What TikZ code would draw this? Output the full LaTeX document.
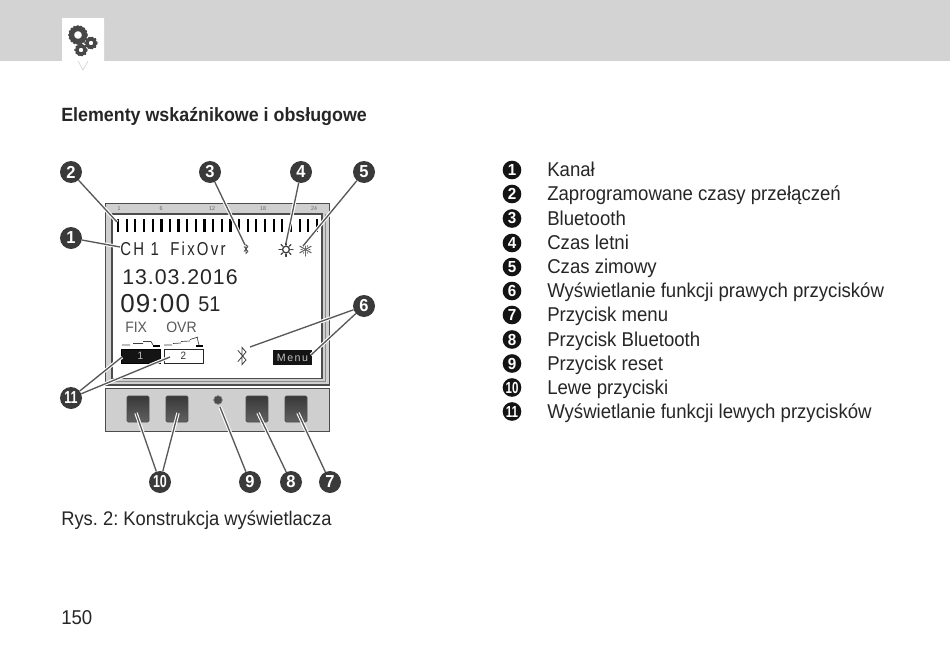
\documentclass[tikz,border=0pt]{standalone}
\usepackage{fontspec}
\setmainfont[FakeStretch=0.93]{Liberation Sans}
\newfontfamily\lcdn[FakeStretch=0.8,LetterSpace=12]{Liberation Sans}
\newfontfamily\lcd[LetterSpace=4.5]{Liberation Sans}
\newfontfamily\lcdm[LetterSpace=14]{Liberation Sans}
\newfontfamily\badgef[FakeStretch=0.95]{Liberation Sans Bold}
\newfontfamily\badgen[FakeStretch=0.72]{Liberation Sans Bold}
\usetikzlibrary{calc}
\pgfdeclarelayer{front}
\pgfsetlayers{main,front}
\definecolor{hdr}{HTML}{D3D3D3}
\definecolor{ink}{HTML}{3A3A3A}
\definecolor{frm}{HTML}{CFCFCF}
\tikzset{
 x=0.75pt,y=-0.75pt,
 badge/.style={circle,fill=ink,text=white,minimum size=16.5pt,inner sep=0pt,font=\badgef\fontsize{13}{13}\selectfont},
 lbadge/.style={circle,fill=black!92,text=white,minimum size=14pt,inner sep=0pt,font=\badgef\fontsize{12}{12}\selectfont},
 conn/.style={draw=ink!85!white,line width=1pt,preaction={draw=white,line width=2.6pt}},
 item/.style={anchor=base west,inner sep=0pt,text=black!85,font=\fontsize{15}{16}\selectfont},
 hourlab/.style={inner sep=0pt,text=black!60,font=\fontsize{4.2}{5}\selectfont},
 lcdt/.style={anchor=base west,inner sep=0pt,text=black!85},
 keybtn/.style={draw=black!70,top color=black!78,bottom color=black!62,rounded corners=1pt,line width=0.5pt},
 icon/.style={draw=black!75,line width=0.55pt,line cap=round},
}
\begin{document}
\begin{tikzpicture}
\frenchspacing
\useasboundingbox (0,0) rectangle (950,646);
\fill[white] (0,0) rectangle (950,646);
% header
\fill[hdr] (0,0) rectangle (950,61);
\fill[white] (62,18) -- (104,18) -- (104,61) -- (88,61) -- (83,70) -- (78,61) -- (62,61) -- cycle;
\draw[hdr,line width=0.5pt] (78,61) -- (83,70) -- (88,61);
% gears
\foreach \cx/\cy/\rr in {78/35/6.5,91/43/4.2,81/50/4.2}{
  \draw[black!72,line width=\rr*0.62pt] (\cx,\cy) circle[radius=\rr];
  \draw[black!72,line width=1.5pt,dash pattern=on 1.2pt off 1.3pt] (\cx,\cy) circle[radius=\rr*1.35];
}
% title etc
\node[item,font=\bfseries\fontsize{14.4}{16}\selectfont] (title) at (61,121) {Elementy wskaźnikowe i obsługowe};
\node[item,font=\fontsize{14.8}{16}\selectfont] (caption) at (61,525) {Rys. 2: Konstrukcja wyświetlacza};
\node[item] (page) at (61,624) {150};
% display frame
\draw[black!70,fill=frm,line width=0.9pt] (105.5,203.5) rectangle (329.5,385);
\draw[black!70,fill=white,line width=0.9pt] (112,214) rectangle (322,378.5);
\draw[black!45,line width=0.4pt] (112,381) -- (325,381) -- (325,214);
% button panel
\draw[black!70,fill=frm,line width=0.7pt] (105.5,388) rectangle (329.5,431);
\foreach \xa in {127,166,246,285}
  \draw[keybtn] (\xa,396) rectangle ++(22,26);
\node[circle,fill=black!70,draw=black!50,minimum size=6.5pt,inner sep=0pt] (reset) at (218,400) {};
% ticks
\foreach \i in {0,...,23}
  \draw[black,line width=1.6pt] (118+\i*8.65,219) -- (118+\i*8.65,232);
\draw[black,line width=2.2pt] (161.2,219) -- (161.2,232);
\foreach \t/\xx in {1/119,6/161,12/212,18/263,24/314}
  \node[hourlab] (h\t) at (\xx,208.5) {\t};
% lcd text
\node[lcdt,font=\lcdn\fontsize{14}{14}\selectfont] (ch) at (120,255) {CH\hspace{5pt}1\hspace{8.5pt}FixOvr};
\node[lcdt,font=\lcd\fontsize{16}{16}\selectfont] (date) at (122,284) {13.03.2016};
\node[lcdt,font=\lcd\fontsize{19.5}{20}\selectfont] (time) at (120,312) {09:00};
\node[lcdt,font=\fontsize{16}{16}\selectfont] (sec) at (198,311) {51};
\node[lcdt,text=black!65,font=\fontsize{11.3}{12}\selectfont] (fix) at (125,332) {FIX};
\node[lcdt,text=black!65,font=\fontsize{11.3}{12}\selectfont] (ovr) at (166,332) {OVR};
% soft key boxes
\node[draw=black,fill=black!92,text=white!75!black,minimum width=29pt,minimum height=10.5pt,inner sep=0pt,font=\fontsize{8}{9}\selectfont] (k1) at (140.5,356) {1};
\node[draw=black!85,fill=white,text=black!80,minimum width=29pt,minimum height=10.5pt,inner sep=0pt,font=\fontsize{8}{9}\selectfont] (k2) at (183.5,356) {2};
\node[fill=black!92,text=white!75!black,minimum width=29.5pt,minimum height=11pt,inner sep=0pt,font=\lcdm\fontsize{8}{9}\selectfont] (menu) at (292.5,357.5) {Menu};
% step graphs
\draw[black!75,line width=0.5pt] (122,345) -- (130,345) (133,343.5) -- (143,343.5) (143,341.5) -- (151,341.5) -- (153,345);
\fill[black] (153,344.5) rectangle (160,347);
\draw[black!75,line width=0.5pt] (164,345) -- (172,345) (173,343.5) -- (181,343) (181,341.5) -- (190,341) (190,339.5) -- (198,337) (197,337) -- (199,345);
\fill[black] (196,344.5) rectangle (203,347);
% large bluetooth
\draw[icon,line width=0.6pt] (238,350.5) -- (246,360) -- (242,364.5) -- (242,347.5) -- (246,352) -- (238,361.5);
% small bluetooth
\draw[icon,line width=0.5pt] (244,246.5) -- (248,251.5) -- (246,253.5) -- (246,244.5) -- (248,246.5) -- (244,251.5);
% sun
\draw[icon,fill=white,line width=1pt] (286,249.5) circle[radius=3.4];
\foreach \a in {0,45,...,315}
  \draw[icon,line width=1pt] ($(286,249.5)+(\a:4.8)$) -- ($(286,249.5)+(\a:7)$);
% snow
\foreach \a in {30,90,150}
  \draw[icon,black!60,line width=0.8pt] ($(305.5,249.5)+(\a:6.5)$) -- ($(305.5,249.5)+(\a+180:6.5)$);
\foreach \a in {0,60,...,300}
  \draw[icon,black!60,line width=0.5pt] ($(305.5,249.5)+(\a:3.2)$) -- ($(305.5,249.5)+(\a:4.6)$);
% badges
\begin{pgfonlayer}{front}
\node[badge] (b1) at (71,238) {1};
\node[badge] (b2) at (71,172) {2};
\node[badge] (b3) at (210,172) {3};
\node[badge] (b4) at (301,172) {4};
\node[badge] (b5) at (364,172) {5};
\node[badge] (b6) at (364,306) {6};
\node[badge] (b7) at (330,482) {7};
\node[badge] (b8) at (291,482) {8};
\node[badge] (b9) at (250,482) {9};
\node[badge] (b10) at (160,482) {\badgen 10};
\node[badge] (b11) at (71,398) {\badgen 11};
\end{pgfonlayer}
% connector ends
\coordinate (e1) at (120,247);
\coordinate (e2) at (117,222);
\coordinate (e3) at (245,245);
\coordinate (e4) at (286,243);
\coordinate (e5) at (303,246);
\coordinate (e6a) at (250,347);
\coordinate (e6b) at (311,355);
\coordinate (e7) at (298,413);
\coordinate (e8) at (258,413);
\coordinate (e9) at (220,407);
\coordinate (e10a) at (136,413);
\coordinate (e10b) at (178,413);
\coordinate (e11a) at (122,357);
\coordinate (e11b) at (170,357);
\draw[conn] (b1) -- (e1);
\draw[conn] (b2) -- (e2);
\draw[conn] (b3) -- (e3);
\draw[conn] (b4) -- (e4);
\draw[conn] (b5) -- (e5);
\draw[conn] (b6) -- (e6a);
\draw[conn] (b6) -- (e6b);
\draw[conn] (b7) -- (e7);
\draw[conn] (b8) -- (e8);
\draw[conn] (b9) -- (e9);
\draw[conn] (b10) -- (e10a);
\draw[conn] (b10) -- (e10b);
\draw[conn] (b11) -- (e11a);
\draw[conn] (b11) -- (e11b);
% legend
\foreach \n/\lab/\yy/\txt in {
 1/1/170/Kanał,
 2/2/194/Zaprogramowane czasy przełączeń,
 3/3/218.5/Bluetooth,
 4/4/243/Czas letni,
 5/5/267/Czas zimowy,
 6/6/291/Wyświetlanie funkcji prawych przycisków,
 7/7/315/Przycisk menu,
 8/8/339.5/Przycisk Bluetooth,
 9/9/363.5/Przycisk reset,
 10/{\badgen 10}/387.5/Lewe przyciski,
 11/{\badgen 11}/411.5/Wyświetlanie funkcji lewych przycisków}{
  \node[lbadge] (l\n) at (512,\yy) {\lab};
  \node[item] (t\n) at (547,\yy+6.5) {\txt};
}
\end{tikzpicture}
\end{document}
